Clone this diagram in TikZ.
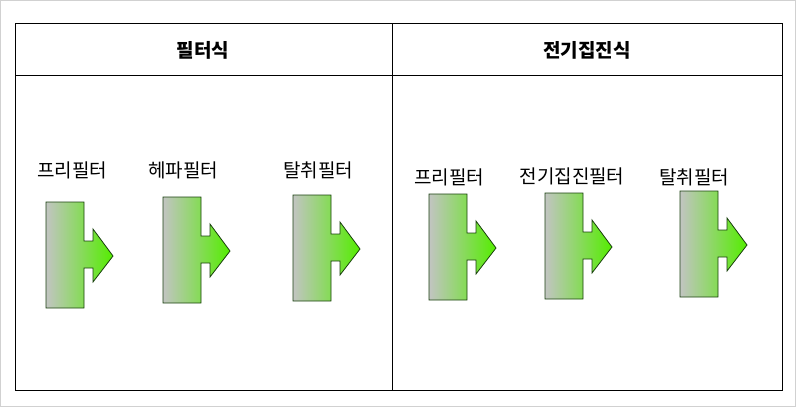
\documentclass[tikz,border=0pt]{standalone}
\usepackage{fontspec}
\setmainfont{Noto Sans CJK KR}
\usepackage{tikz}
\definecolor{frameGray}{rgb}{0.82,0.82,0.82}
\definecolor{filterGray}{rgb}{0.76,0.77,0.76}
\definecolor{filterGreen}{rgb}{0.33,0.93,0.0}
\definecolor{edgeGreen}{rgb}{0.1,0.25,0.05}

\tikzset{
	filterarrow/.style={draw=edgeGreen, line width=0.8pt, left color=filterGray, right color=filterGreen},
	filtlabel/.style={font=\fontsize{19}{19}\selectfont},
	headlabel/.style={font=\bfseries\fontsize{19}{19}\selectfont}
}

\begin{document}
\begin{tikzpicture}[x=1pt, y=-1pt]
	\useasboundingbox (0,0) rectangle (796,407);
	\draw[frameGray] (0.5,0.5) rectangle (795.5,406.5);
	
	% table
	\draw[line width=1pt] (15,23) rectangle (782,390);
	\draw[line width=1pt] (15,75) -- (782,75);
	\draw[line width=1pt] (392,23) -- (392,390);
	\node[headlabel] (headFilter) at (203,50) {필터식};
	\node[headlabel] (headElec) at (587,50) {전기집진식};
	
	% left side
	\node[filtlabel] (preA) at (72,170) {프리필터};
	\draw[filterarrow, shift={(46,202)}] (0,0) -- (38,0) -- (38,39) -- (47,39) -- (47,27) -- (67,54) -- (47,80) -- (47,66) -- (38,66) -- (38,106) -- (0,106) -- cycle;
	
	\node[filtlabel] (hepa) at (183,170) {헤파필터};
	\draw[filterarrow, shift={(163,197)}] (0,0) -- (38,0) -- (38,39) -- (47,39) -- (47,27) -- (67,54) -- (47,80) -- (47,66) -- (38,66) -- (38,106) -- (0,106) -- cycle;
	
	\node[filtlabel] (deoA) at (318,170) {탈취필터};
	\draw[filterarrow, shift={(293,195)}] (0,0) -- (38,0) -- (38,39) -- (47,39) -- (47,27) -- (67,54) -- (47,80) -- (47,66) -- (38,66) -- (38,106) -- (0,106) -- cycle;
	
	% right side
	\node[filtlabel] (preB) at (449,177) {프리필터};
	\draw[filterarrow, shift={(429,194)}] (0,0) -- (38,0) -- (38,39) -- (47,39) -- (47,27) -- (67,54) -- (47,80) -- (47,66) -- (38,66) -- (38,106) -- (0,106) -- cycle;
	
	\node[filtlabel] (elec) at (572,176) {전기집진필터};
	\draw[filterarrow, shift={(545,193)}] (0,0) -- (38,0) -- (38,39) -- (47,39) -- (47,27) -- (67,54) -- (47,80) -- (47,66) -- (38,66) -- (38,106) -- (0,106) -- cycle;
	
	\node[filtlabel] (deoB) at (694,177) {탈취필터};
	\draw[filterarrow, shift={(680,191)}] (0,0) -- (38,0) -- (38,39) -- (47,39) -- (47,27) -- (67,54) -- (47,80) -- (47,66) -- (38,66) -- (38,106) -- (0,106) -- cycle;
\end{tikzpicture}
\end{document}
